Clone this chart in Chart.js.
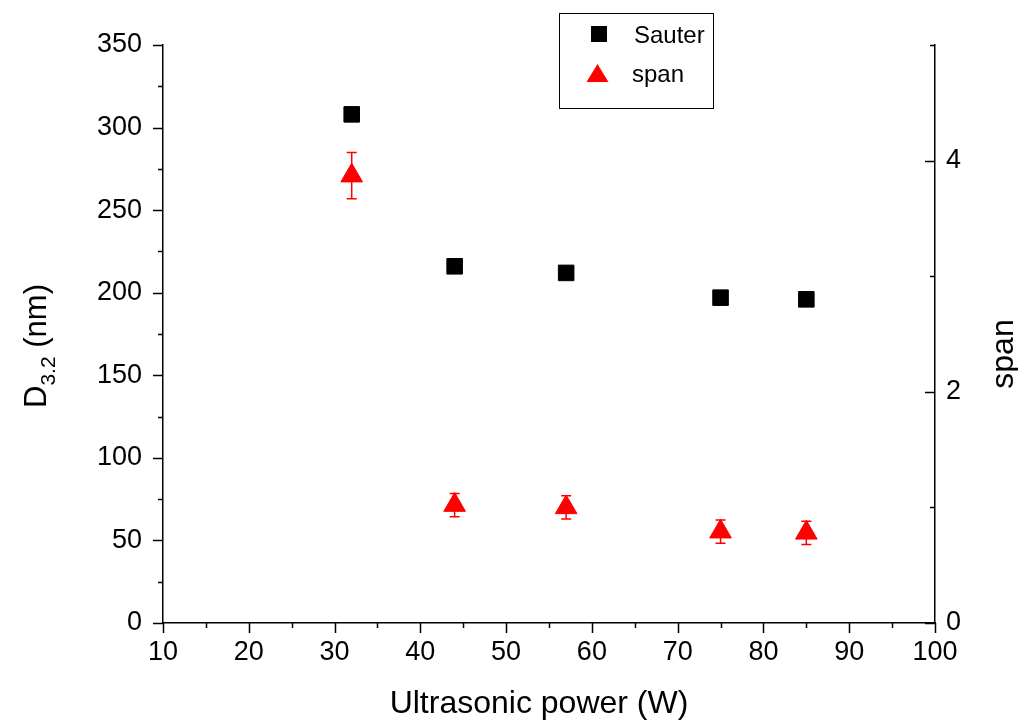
<!DOCTYPE html>
<html>
<head>
<meta charset="utf-8">
<script src="https://cdn.jsdelivr.net/npm/chart.js@4.4.0/dist/chart.umd.min.js"></script>
<style>
    html, body { margin: 0; padding: 0; background: #fff; }
    #wrap { width: 1018px; height: 724px; }
</style>
</head>
<body>
<div id="wrap"><canvas id="chart" width="1018" height="724"></canvas></div>
<script>
// Data
const powerW = [32, 44, 57, 75, 85];
const sauterNm = [308, 216, 212, 197, 196];
const sauterErr = [2, 2, 2, 2, 2];
const spanVals = [3.87, 1.02, 1.00, 0.79, 0.78];
const spanErr = [0.2, 0.1, 0.1, 0.1, 0.1];

const FONT = "'Liberation Sans', Arial, Helvetica, sans-serif";

// Error bars, tick marks, titles and legend
const decorPlugin = {
    id: 'decor',
    beforeDatasetsDraw(chart) {
        const ctx = chart.ctx;
        const x = chart.scales.x;
        const bars = [
            { axis: chart.scales.y, vals: sauterNm, err: sauterErr, color: '#000' },
            { axis: chart.scales.y1, vals: spanVals, err: spanErr, color: '#ff0000' }
        ];
        ctx.save();
        ctx.lineWidth = 1.5;
        bars.forEach(b => {
            ctx.strokeStyle = b.color;
            b.vals.forEach((v, i) => {
                const px = x.getPixelForValue(powerW[i]);
                const top = b.axis.getPixelForValue(v + b.err[i]);
                const bot = b.axis.getPixelForValue(v - b.err[i]);
                ctx.beginPath();
                ctx.moveTo(px, top); ctx.lineTo(px, bot);
                ctx.moveTo(px - 5, top); ctx.lineTo(px + 5, top);
                ctx.moveTo(px - 5, bot); ctx.lineTo(px + 5, bot);
                ctx.stroke();
            });
        });
        ctx.restore();
    },
    afterDraw(chart) {
        const ctx = chart.ctx;
        const { x, y, y1 } = chart.scales;
        const area = chart.chartArea;
        ctx.save();
        ctx.strokeStyle = '#000';
        ctx.lineWidth = 1.5;
        ctx.beginPath();
        // left axis ticks (outward)
        for (let v = 0; v <= 350; v += 25) {
            const py = Math.round(y.getPixelForValue(v)) + 0.5;
            const len = v % 50 === 0 ? 10 : 5;
            ctx.moveTo(area.left, py); ctx.lineTo(area.left - len, py);
        }
        // bottom axis ticks (outward)
        for (let v = 10; v <= 100; v += 5) {
            const px = Math.round(x.getPixelForValue(v)) + 0.5;
            const len = v % 10 === 0 ? 10 : 5;
            ctx.moveTo(px, area.bottom); ctx.lineTo(px, area.bottom + len);
        }
        // right axis ticks (inward)
        for (let v = 0; v <= 5; v += 1) {
            const py = Math.round(y1.getPixelForValue(v)) + 0.5;
            const len = v % 2 === 0 ? 10 : 5;
            ctx.moveTo(area.right, py); ctx.lineTo(area.right - len, py);
        }
        ctx.stroke();

        // axis titles
        ctx.fillStyle = '#000';
        ctx.font = '32px ' + FONT;
        ctx.textAlign = 'center';
        ctx.textBaseline = 'alphabetic';
        ctx.fillText('Ultrasonic power (W)', 539, 713);

        // left title: D with subscript 3.2
        ctx.save();
        ctx.translate(46, 346);
        ctx.rotate(-Math.PI / 2);
        ctx.textAlign = 'left';
        const big = '31px ' + FONT, small = '21px ' + FONT;
        ctx.font = big; const wD = ctx.measureText('D').width;
        const wRest = ctx.measureText(' (nm)').width;
        ctx.font = small; const wSub = ctx.measureText('3.2').width;
        let tx = -(wD + wSub + wRest) / 2;
        ctx.font = big; ctx.fillText('D', tx, 0); tx += wD;
        ctx.font = small; ctx.fillText('3.2', tx, 9); tx += wSub;
        ctx.font = big; ctx.fillText(' (nm)', tx, 0);
        ctx.restore();

        // right title
        ctx.save();
        ctx.translate(1013, 354);
        ctx.rotate(-Math.PI / 2);
        ctx.font = '32px ' + FONT;
        ctx.textAlign = 'center';
        ctx.fillText('span', 0, 0);
        ctx.restore();

        // legend box
        ctx.lineWidth = 1;
        ctx.strokeRect(559.5, 13.5, 154, 95);
        ctx.fillStyle = '#000';
        ctx.fillRect(591, 26, 16, 16);
        ctx.fillStyle = '#ff0000';
        ctx.beginPath();
        ctx.moveTo(597.5, 64); ctx.lineTo(608.5, 82); ctx.lineTo(586.5, 82);
        ctx.closePath(); ctx.fill();
        ctx.fillStyle = '#000';
        ctx.font = '24px ' + FONT;
        ctx.textAlign = 'left';
        ctx.fillText('Sauter', 634, 43);
        ctx.fillText('span', 632, 82);
        ctx.restore();
    }
};

const axisBase = {
    grid: { display: true, drawOnChartArea: false, drawTicks: false },
    border: { display: true, color: '#000', width: 1.5 }
};
const tickFont = { family: FONT, size: 27 };

new Chart(document.getElementById('chart'), {
    type: 'scatter',
    data: {
        datasets: [
            {
                label: 'Sauter',
                data: powerW.map((p, i) => ({ x: p, y: sauterNm[i] })),
                yAxisID: 'y',
                pointStyle: 'rect',
                pointRadius: 11,
                pointBackgroundColor: '#000',
                pointBorderColor: '#000',
                pointBorderWidth: 1
            },
            {
                label: 'span',
                data: powerW.map((p, i) => ({ x: p, y: spanVals[i] })),
                yAxisID: 'y1',
                pointStyle: 'triangle',
                pointRadius: 12.5,
                pointBackgroundColor: '#ff0000',
                pointBorderColor: '#ff0000',
                pointBorderWidth: 1
            }
        ]
    },
    options: {
        responsive: false,
        animation: false,
        devicePixelRatio: 1,
        layout: { padding: { top: 45, left: 0, right: 0, bottom: 0 } },
        plugins: {
            legend: { display: false },
            tooltip: { enabled: false }
        },
        scales: {
            x: {
                ...axisBase,
                type: 'linear',
                min: 10, max: 100,
                ticks: { stepSize: 10, color: '#000', font: tickFont, padding: 13, maxRotation: 0, autoSkip: false },
                afterFit: s => { s.height = 101; }
            },
            y: {
                ...axisBase,
                position: 'left',
                min: 0, max: 350,
                ticks: { stepSize: 50, color: '#000', font: tickFont, padding: 21, autoSkip: false },
                afterFit: s => { s.width = 163; }
            },
            y1: {
                ...axisBase,
                position: 'right',
                min: 0, max: 5,
                ticks: {
                    stepSize: 1, color: '#000', font: tickFont, padding: 11, autoSkip: false,
                    callback: v => (v % 2 === 0 ? String(v) : '')
                },
                afterFit: s => { s.width = 83; }
            }
        }
    },
    plugins: [decorPlugin]
});
</script>
</body>
</html>
